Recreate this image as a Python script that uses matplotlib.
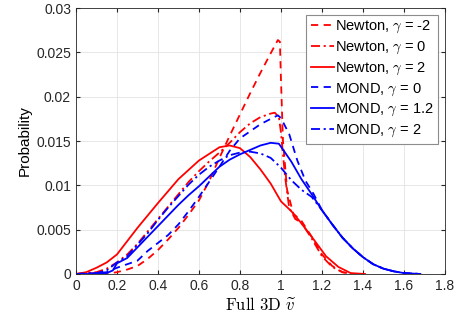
import matplotlib
matplotlib.use("Agg")
import matplotlib.pyplot as plt

plt.rcParams["font.family"] = ["Liberation Sans", "DejaVu Sans"]
plt.rcParams["mathtext.fontset"] = "cm"

# Newton, gamma = -2 (dashed)
newton_m2_x = [0, 0.1, 0.17, 0.2, 0.25, 0.3, 0.35, 0.4, 0.45, 0.5, 0.55, 0.6, 0.65,
               0.7, 0.75, 0.8, 0.85, 0.9, 0.95, 0.985, 0.995, 1.0, 1.01, 1.03, 1.06,
               1.1, 1.15, 1.2, 1.25, 1.3, 1.35]
newton_m2_y = [0, 0.0001, 0.0001, 0.0002, 0.0005, 0.0009, 0.0017, 0.0027, 0.0039,
               0.0052, 0.0067, 0.0083, 0.0105, 0.0131, 0.0156, 0.018, 0.0204, 0.0227,
               0.0249, 0.0264, 0.0262, 0.022, 0.015, 0.0095, 0.0068, 0.006, 0.0042,
               0.0022, 0.0009, 0.0002, 0]

# Newton, gamma = 0 (dash-dot)
newton_0_x = [0, 0.1, 0.15, 0.2, 0.25, 0.3, 0.35, 0.4, 0.45, 0.5, 0.55, 0.6, 0.65,
              0.7, 0.75, 0.8, 0.85, 0.9, 0.95, 0.97, 0.99, 1.0, 1.02, 1.04, 1.07,
              1.1, 1.15, 1.2, 1.25, 1.3, 1.35]
newton_0_y = [0, 0.0002, 0.0006, 0.0013, 0.0022, 0.0034, 0.0048, 0.0062, 0.0076,
              0.009, 0.0104, 0.0116, 0.0127, 0.0137, 0.0148, 0.016, 0.017, 0.0177,
              0.0181, 0.0182, 0.0177, 0.016, 0.011, 0.0075, 0.0062, 0.0058, 0.004,
              0.002, 0.0008, 0.0002, 0]

# Newton, gamma = 2 (solid)
newton_2_x = [0, 0.05, 0.1, 0.15, 0.2, 0.3, 0.4, 0.5, 0.6, 0.7, 0.75, 0.8, 0.85,
              0.9, 0.95, 1.0, 1.05, 1.09, 1.15, 1.22, 1.28, 1.34, 1.41]
newton_2_y = [0, 0.0002, 0.0007, 0.0013, 0.0022, 0.0052, 0.008, 0.0107, 0.0128,
              0.0143, 0.0145, 0.0142, 0.0132, 0.0118, 0.0102, 0.0082, 0.0071, 0.006,
              0.0042, 0.002, 0.0008, 0.0001, 0]

# MOND, gamma = 0 (dashed)
mond_0_x = [0, 0.1, 0.15, 0.2, 0.25, 0.3, 0.35, 0.4, 0.45, 0.5, 0.55, 0.6, 0.65,
            0.7, 0.75, 0.8, 0.85, 0.9, 0.95, 0.985, 1.0, 1.04, 1.08, 1.12, 1.16,
            1.2, 1.25, 1.3, 1.35, 1.4, 1.45, 1.5, 1.55, 1.6, 1.68]
mond_0_y = [0, 0.0001, 0.0002, 0.0007, 0.0011, 0.0015, 0.0026, 0.0035, 0.0044,
            0.0056, 0.0071, 0.0087, 0.0104, 0.0121, 0.0139, 0.0153, 0.0161, 0.0169,
            0.0175, 0.0179, 0.0176, 0.0158, 0.0128, 0.0105, 0.009, 0.0072, 0.0056,
            0.0041, 0.0029, 0.0019, 0.0011, 0.0006, 0.0003, 0.0001, 0]

# MOND, gamma = 1.2 (solid)
mond_12_x = [0, 0.1, 0.15, 0.18, 0.2, 0.25, 0.3, 0.35, 0.4, 0.45, 0.5, 0.55, 0.6,
             0.65, 0.7, 0.75, 0.8, 0.85, 0.9, 0.95, 0.99, 1.05, 1.1, 1.15, 1.2,
             1.25, 1.3, 1.35, 1.4, 1.45, 1.5, 1.55, 1.6, 1.68]
mond_12_y = [0, 0, 0.0001, 0.0004, 0.0012, 0.0018, 0.003, 0.0042, 0.0054, 0.0066,
             0.0078, 0.0089, 0.0099, 0.011, 0.0121, 0.0129, 0.0135, 0.014, 0.0145,
             0.0148, 0.0147, 0.0127, 0.0107, 0.009, 0.0072, 0.0056, 0.0041, 0.0029,
             0.0019, 0.0011, 0.0006, 0.0003, 0.0001, 0]

# MOND, gamma = 2 (dash-dot)
mond_2_x = [0, 0.1, 0.15, 0.2, 0.25, 0.3, 0.35, 0.4, 0.45, 0.5, 0.55, 0.6, 0.65,
            0.7, 0.75, 0.8, 0.85, 0.9, 0.95, 1.0, 1.05, 1.1, 1.15, 1.2, 1.25, 1.3,
            1.35, 1.4, 1.45, 1.5, 1.55, 1.6, 1.68]
mond_2_y = [0, 0.0001, 0.0004, 0.0013, 0.002, 0.0033, 0.0046, 0.0061, 0.0075,
            0.0088, 0.0101, 0.0112, 0.0121, 0.0128, 0.0134, 0.0137, 0.0138, 0.0136,
            0.0131, 0.012, 0.0106, 0.0095, 0.0087, 0.0072, 0.0056, 0.0041, 0.0029,
            0.0019, 0.0011, 0.0006, 0.0003, 0.0001, 0]

labels = [r"Newton, $\gamma$ = -2", r"Newton, $\gamma$ = 0", r"Newton, $\gamma$ = 2",
          r"MOND, $\gamma$ = 0", r"MOND, $\gamma$ = 1.2", r"MOND, $\gamma$ = 2"]

x_ticks = [0, 0.2, 0.4, 0.6, 0.8, 1.0, 1.2, 1.4, 1.6, 1.8]
x_tick_labels = ["0", "0.2", "0.4", "0.6", "0.8", "1", "1.2", "1.4", "1.6", "1.8"]
y_ticks = [0, 0.005, 0.01, 0.015, 0.02, 0.025, 0.03]
y_tick_labels = ["0", "0.005", "0.01", "0.015", "0.02", "0.025", "0.03"]

fig = plt.figure(figsize=(4.63, 3.25), dpi=100)
ax = fig.add_axes([0.164, 0.157, 0.797, 0.818])

dash = (0, (4, 3))
dashdot = (0, (5, 2, 1.2, 2))
lw = 1.3

ax.plot(newton_m2_x, newton_m2_y, color="red", linestyle=dash, lw=lw, label=labels[0])
ax.plot(newton_0_x, newton_0_y, color="red", linestyle=dashdot, lw=lw, label=labels[1])
ax.plot(newton_2_x, newton_2_y, color="red", linestyle="-", lw=lw, label=labels[2])
ax.plot(mond_0_x, mond_0_y, color="blue", linestyle=dash, lw=lw, label=labels[3])
ax.plot(mond_12_x, mond_12_y, color="blue", linestyle="-", lw=lw, label=labels[4])
ax.plot(mond_2_x, mond_2_y, color="blue", linestyle=dashdot, lw=lw, label=labels[5])

ax.set_xlim(0, 1.8)
ax.set_ylim(0, 0.03)
ax.set_xticks(x_ticks)
ax.set_xticklabels(x_tick_labels)
ax.set_yticks(y_ticks)
ax.set_yticklabels(y_tick_labels)
ax.tick_params(direction="in", length=3, labelsize=10, colors="#262626",
               top=True, right=True)
for s in ax.spines.values():
    s.set_color("#262626")
    s.set_linewidth(0.6)
ax.grid(True, color="#e3e3e3", linewidth=0.6)
ax.set_axisbelow(True)

ax.set_xlabel(r"$\mathrm{Full\ 3D}\ \widetilde{v}$", fontsize=12, labelpad=2)
ax.set_ylabel("Probability", fontsize=11, labelpad=3)

leg = ax.legend(loc="upper right", fontsize=10.5, handlelength=1.6, handletextpad=0.1,
                labelspacing=0.3, borderpad=0.3, borderaxespad=0.45,
                fancybox=False, framealpha=1, edgecolor="#8c8c8c")
leg.get_frame().set_linewidth(0.8)

fig.savefig("out.png", dpi=100)
